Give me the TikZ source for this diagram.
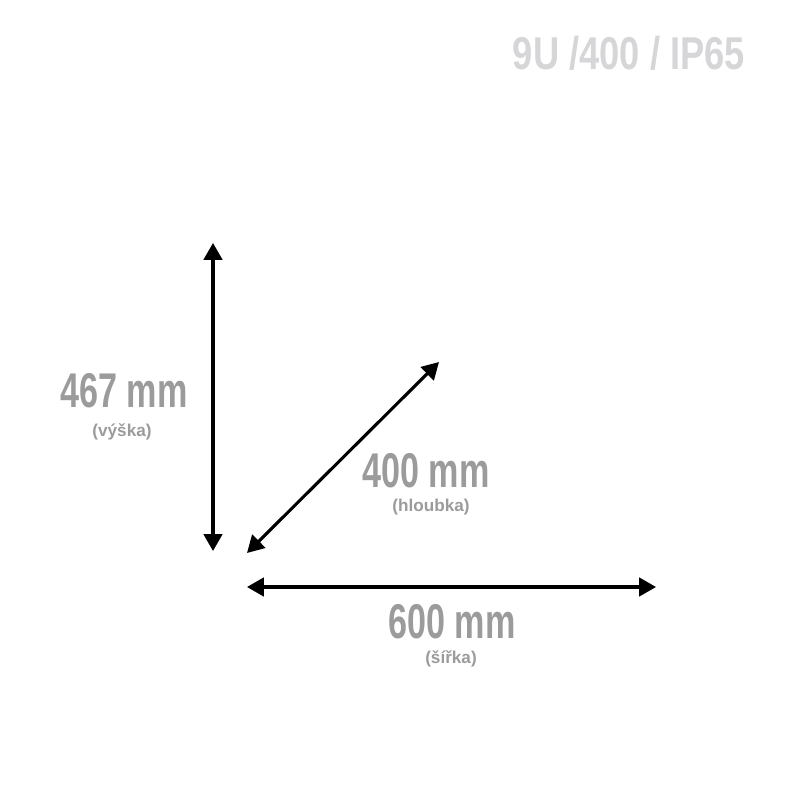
\documentclass[tikz,border=0pt]{standalone}
\usepackage{fontspec}
\usetikzlibrary{arrows.meta}
\setmainfont{Liberation Sans}
\newfontfamily\dimfont[FakeStretch=0.7]{Liberation Sans}
\newfontfamily\titlefont[FakeStretch=0.79]{Liberation Sans}
\definecolor{dimgray}{RGB}{155,155,155}
\definecolor{titlegray}{RGB}{214,214,217}
\begin{document}
\begin{tikzpicture}[
                dimarrow/.style = {line width = 2.2pt, {Triangle[length=4.2mm,width=4.6mm]}-{Triangle[length=4.2mm,width=4.6mm]}},
                bigtext/.style = {text = dimgray, font = \dimfont\bfseries\fontsize{34.7}{36}\selectfont, inner sep = 0pt},
                smalltext/.style = {text = dimgray, font = \bfseries\fontsize{12.2}{13}\selectfont, inner sep = 0pt}
                ]
                \useasboundingbox (0,0) rectangle (20,20);
                \node[text = titlegray, font = \titlefont\bfseries\fontsize{32.7}{34}\selectfont, inner sep = 0pt] (title) at (15.725, 18.675) {9U /400 / IP65};
                % height
                \coordinate (hTop) at (5.325, 13.925);
                \coordinate (hBot) at (5.325, 6.225);
                \draw[dimarrow] (hTop) -- (hBot);
                \node[bigtext] (hLabel) at (3.1, 10.22) {467 mm};
                \node[smalltext] (hNote) at (3.05, 9.2) {(výška)};
                % depth
                \coordinate (dLow) at (6.175, 6.175);
                \coordinate (dHigh) at (10.975, 10.95);
                \draw[dimarrow] (dLow) -- (dHigh);
                \node[bigtext] (dLabel) at (10.65, 8.22) {400 mm};
                \node[smalltext] (dNote) at (10.775, 7.32) {(hloubka)};
                % width
                \coordinate (wLeft) at (6.175, 5.325);
                \coordinate (wRight) at (16.4, 5.325);
                \draw[dimarrow] (wLeft) -- (wRight);
                \node[bigtext] (wLabel) at (11.3, 4.445) {600 mm};
                \node[smalltext] (wNote) at (11.275, 3.525) {(šířka)};
            \end{tikzpicture}
\end{document}
